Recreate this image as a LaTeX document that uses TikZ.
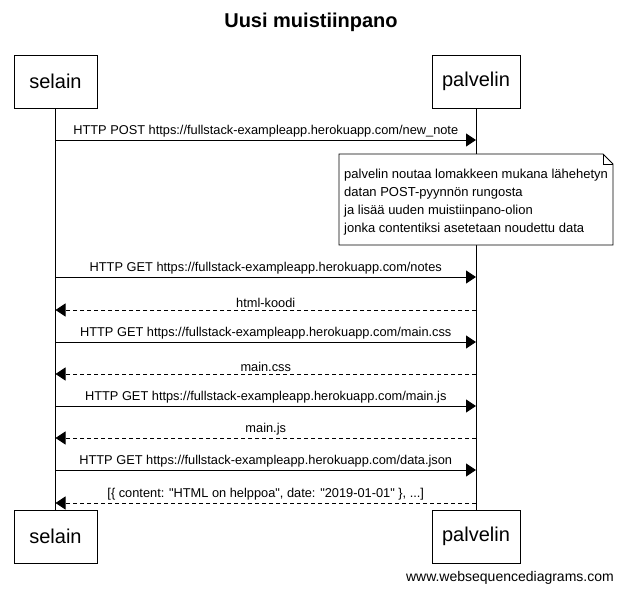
\documentclass[tikz,border=0pt]{standalone}
\usepackage{fontspec}
\setmainfont{Liberation Sans}
\usetikzlibrary{arrows.meta,positioning}

\tikzset{
  actorbox/.style={draw, line width=0.8pt, minimum height=53pt, inner sep=0pt,
    font=\fontsize{20}{24}\selectfont},
  msg/.style={-{Triangle[length=10pt,width=13pt]}, line width=0.8pt},
  reply/.style={msg, dash pattern=on 4pt off 3pt},
  msglabel/.style={midway, above, inner sep=2pt, font=\fontsize{12.8}{14}\selectfont},
  notebox/.style={draw, line width=0.8pt, fill=white}
}
\newcommand{\qq}{\textquotedbl}

\begin{document}
\begin{tikzpicture}[x=1pt,y=-1pt]
    \useasboundingbox (0,0) rectangle (622,594);
    %title
    \node[font=\fontsize{20}{24}\selectfont\bfseries] (title) at (311,22) {Uusi muistiinpano};
    %participants
    \node[actorbox, minimum width=83pt] (selainA) at (55.5,81.5) {selain};
    \node[actorbox, minimum width=88pt] (palvelinA) at (476,81.5) {palvelin};
    \node[actorbox, minimum width=83pt] (selainB) at (55.5,536.5) {selain};
    \node[actorbox, minimum width=88pt] (palvelinB) at (476,536.5) {palvelin};
    %lifelines
    \draw[line width=0.8pt] (selainA.south) -- (selainB.north);
    \draw[line width=0.8pt] (palvelinA.south) -- (palvelinB.north);
    %message points
    \foreach \i/\y in {1/140,2/277,3/310,4/342,5/374,6/406,7/438,8/470,9/503}{
        \coordinate (s\i) at (55.5,\y);
        \coordinate (p\i) at (476,\y);
    }
    %messages
    \draw[msg] (s1) -- (p1) node[msglabel] {HTTP POST https://fullstack-exampleapp.herokuapp.com/new\_note};
    \draw[msg] (s2) -- (p2) node[msglabel] {HTTP GET https://fullstack-exampleapp.herokuapp.com/notes};
    \draw[reply] (p3) -- (s3) node[msglabel] {html-koodi};
    \draw[msg] (s4) -- (p4) node[msglabel] {HTTP GET https://fullstack-exampleapp.herokuapp.com/main.css};
    \draw[reply] (p5) -- (s5) node[msglabel] {main.css};
    \draw[msg] (s6) -- (p6) node[msglabel] {HTTP GET https://fullstack-exampleapp.herokuapp.com/main.js};
    \draw[reply] (p7) -- (s7) node[msglabel] {main.js};
    \draw[msg] (s8) -- (p8) node[msglabel] {HTTP GET https://fullstack-exampleapp.herokuapp.com/data.json};
    \draw[reply] (p9) -- (s9) node[msglabel] {[\{ content: \qq HTML on helppoa\qq, date: \qq 2019-01-01\qq\ \}, ...]};
    %note
    \draw[notebox] (339,154) -- (603,154) -- (613,164) -- (613,245) -- (339,245) -- cycle;
    \draw[line width=0.8pt] (603,154) -- (603,164) -- (613,164);
    \node[anchor=north west, align=left, inner sep=0pt, font=\fontsize{13}{18}\selectfont] (note) at (344,169)
        {palvelin noutaa lomakkeen mukana lähehetyn\\datan POST-pyynnön rungosta\\ja lisää uuden muistiinpano-olion\\jonka contentiksi asetetaan noudettu data};
    %watermark
    \node[anchor=east, inner sep=0pt, font=\fontsize{14}{16}\selectfont] (wsd) at (614,578) {www.websequencediagrams.com};
\end{tikzpicture}
\end{document}
